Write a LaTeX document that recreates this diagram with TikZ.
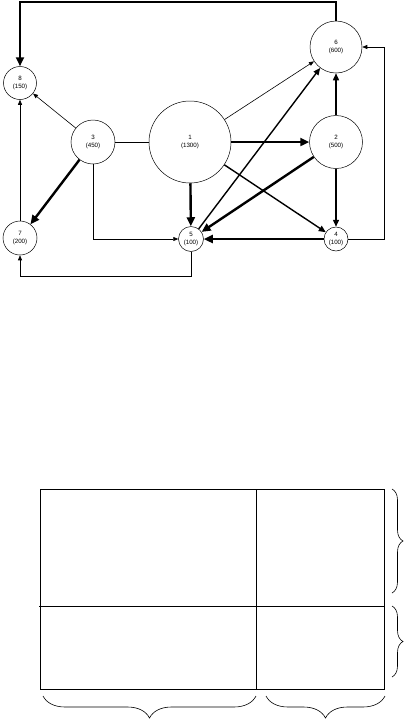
\documentclass[tikz,border=0pt]{standalone}
\usepackage{fontspec}
\setmainfont{Liberation Sans}
\usetikzlibrary{arrows.meta,decorations.pathreplacing}

\begin{document}
\begin{tikzpicture}[
    x=1pt, y=-1pt,
    vtx/.style={circle, draw, line width=0.5pt, inner sep=0pt, align=center, font=\fontsize{6.2}{8.5}\selectfont},
    wline/.style={line width=0.6pt, -{Triangle[length=5pt, width=4pt]}},
    mline/.style={line width=1.4pt, -{Triangle[length=7pt, width=6pt]}},
    sline/.style={line width=2.4pt, -{Triangle[length=9pt, width=8pt]}},
    box/.style={line width=0.8pt},
    brc/.style={decorate, line width=0.6pt},
]
\useasboundingbox (0,0) rectangle (405,721);
% graph
\node[vtx, minimum size=33] (n8) at (20,83) {8\\(150)};
\node[vtx, minimum size=44] (n3) at (93,142) {3\\(450)};
\node[vtx, minimum size=82] (n1) at (190,142) {1\\(1300)};
\node[vtx, minimum size=53] (n2) at (336,142) {2\\(500)};
\node[vtx, minimum size=52] (n6) at (336,47) {6\\(600)};
\node[vtx, minimum size=34] (n7) at (20,238) {7\\(200)};
\node[vtx, minimum size=25] (n5) at (191,239) {5\\(100)};
\node[vtx, minimum size=24] (n4) at (336,239) {4\\(100)};
\draw[sline] (n6.north) -- ++(0,-19) -| (n8.north);
\draw[wline] (n3) -- (n8);
\draw[wline] (n7) -- (n8);
\draw[sline] (n3) -- (n7);
\draw[line width=0.6pt] (n3) -- (n1);
\draw[wline] (n3.south) |- (n5.west);
\draw[wline] (n5.south) -- ++(0,25) -| (n7.south);
\draw[wline] (n1) -- (n6);
\draw[sline] (n1) -- (n2);
\draw[sline] (n1) -- (n5);
\draw[mline] (n1) -- (n4);
\draw[mline] (n5) -- (n6);
\draw[sline] (n2) -- (n5);
\draw[mline] (n2) -- (n6);
\draw[mline] (n2) -- (n4);
\draw[sline] (n4) -- (n5);
\draw[wline] (n4.east) -- ++(36,0) |- (n6.east);
% grid
\draw[box] (40,489) rectangle (384,689);
\draw[box] (256,489) -- (256,689);
\draw[box] (39,606) -- (384,606);
\draw[brc, decoration={brace, amplitude=11pt}] (392,489) -- (392,593);
\draw[brc, decoration={brace, amplitude=11pt}] (392,606) -- (392,677);
\draw[brc, decoration={brace, amplitude=22pt}] (256,696) -- (43,696);
\draw[brc, decoration={brace, amplitude=22pt}] (385,696) -- (266,696);
\end{tikzpicture}
\end{document}
